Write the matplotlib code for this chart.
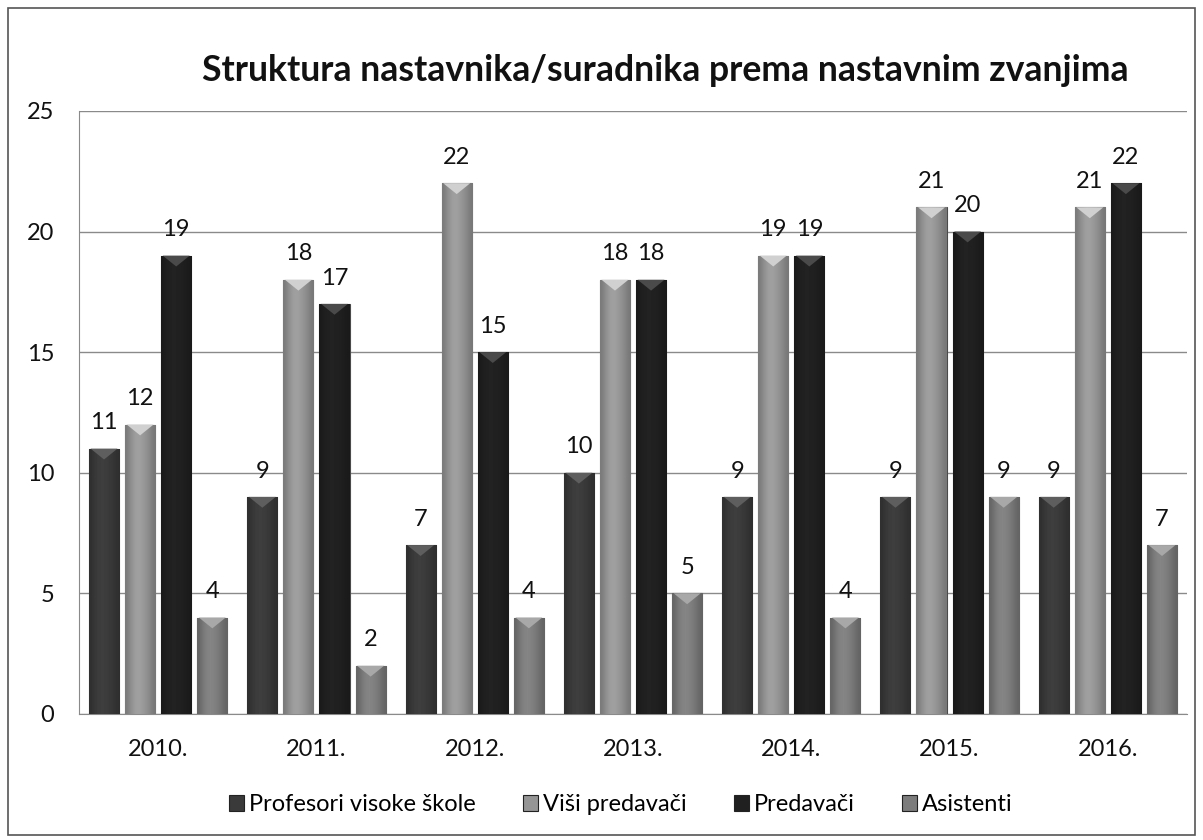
import numpy as np
import matplotlib
matplotlib.use("Agg")
import matplotlib.pyplot as plt
from matplotlib.patches import Polygon, Rectangle

plt.rcParams['font.family'] = ['Lato', 'DejaVu Sans']

# Data
years = ["2010.", "2011.", "2012.", "2013.", "2014.", "2015.", "2016."]
profesori = [11, 9, 7, 10, 9, 9, 9]
visi_predavaci = [12, 18, 22, 18, 19, 21, 21]
predavaci = [19, 17, 15, 18, 19, 20, 22]
asistenti = [4, 2, 4, 5, 4, 9, 7]

series_names = ["Profesori visoke škole", "Viši predavači", "Predavači", "Asistenti"]
series = [profesori, visi_predavaci, predavaci, asistenti]
colors = ["#3a3a3a", "#959595", "#202020", "#7c7c7c"]
highlights = ["#5e5e5e", "#d0d0d0", "#4a4a4a", "#a8a8a8"]

fig = plt.figure(figsize=(12.03, 8.40), dpi=100)
ax = fig.add_axes([0.0657, 0.15, 0.921, 0.718])

x = np.arange(len(years))
pitch = 0.228
width = 0.19

# horizontal shading profile used inside every bar
shade = np.array([[0.82, 0.95, 1.05, 1.08, 1.04, 0.98, 0.9, 0.8]])

for i, (name, vals) in enumerate(zip(series_names, series)):
    pos = x + (i - 1.5) * pitch
    bars = ax.bar(pos, vals, width=width, color=colors[i], edgecolor="#4a4a4a",
                  linewidth=0.8, label=name, zorder=3)
    base = matplotlib.colors.to_rgb(colors[i])[0]
    for b, v in zip(bars, vals):
        x0 = b.get_x()
        x1 = x0 + b.get_width()
        xc = (x0 + x1) / 2
        img = ax.imshow(np.clip(shade * base, 0, 1), cmap="gray", vmin=0, vmax=1,
                        extent=[x0, x1, 0, v], aspect="auto", zorder=3.5,
                        interpolation="bicubic")
        img.set_clip_path(b)
        # bevel highlight at the top of each bar
        d = 0.45
        tri = Polygon([(x0 + 0.01, v), (x1 - 0.01, v), (xc, v - d)], closed=True,
                      facecolor=highlights[i], edgecolor="none", zorder=4)
        ax.add_patch(tri)
        ax.annotate(str(v), (xc, v), xytext=(0, 11), textcoords="offset points",
                    ha="center", va="bottom", fontsize=17, color="#111111", zorder=5)

ax.set_xlim(-0.5, len(years) - 0.5)
ax.set_ylim(0, 25)
ax.set_yticks(range(0, 26, 5))
ax.set_xticks(x)
ax.set_xticklabels(years)
ax.tick_params(axis="both", length=0, labelsize=17, colors="#111111")
ax.tick_params(axis="x", pad=18)
ax.tick_params(axis="y", pad=18)

ax.grid(axis="y", color="#8a8a8a", linewidth=1.0, zorder=0)
ax.set_axisbelow(True)
for s in ["top", "right"]:
    ax.spines[s].set_visible(False)
ax.spines["left"].set_color("#8a8a8a")
ax.spines["bottom"].set_color("#8a8a8a")

fig.text(0.553, 0.916, "Struktura nastavnika/suradnika prema nastavnim zvanjima",
         ha="center", va="center", fontsize=25.7, fontweight="bold", color="#111111")

leg = fig.legend(loc="center", bbox_to_anchor=(0.516, 0.042), ncol=4, frameon=False,
                 fontsize=17, handlelength=0.65, handleheight=0.65, handletextpad=0.2,
                 columnspacing=2.0)
for h in leg.legend_handles:
    h.set_edgecolor("#222222")

# outer chart border
fig.patches.append(Rectangle((0.007, 0.006), 0.986, 0.985, transform=fig.transFigure,
                             fill=False, edgecolor="#555555", linewidth=1.2))

fig.savefig("out.png", dpi=100)
